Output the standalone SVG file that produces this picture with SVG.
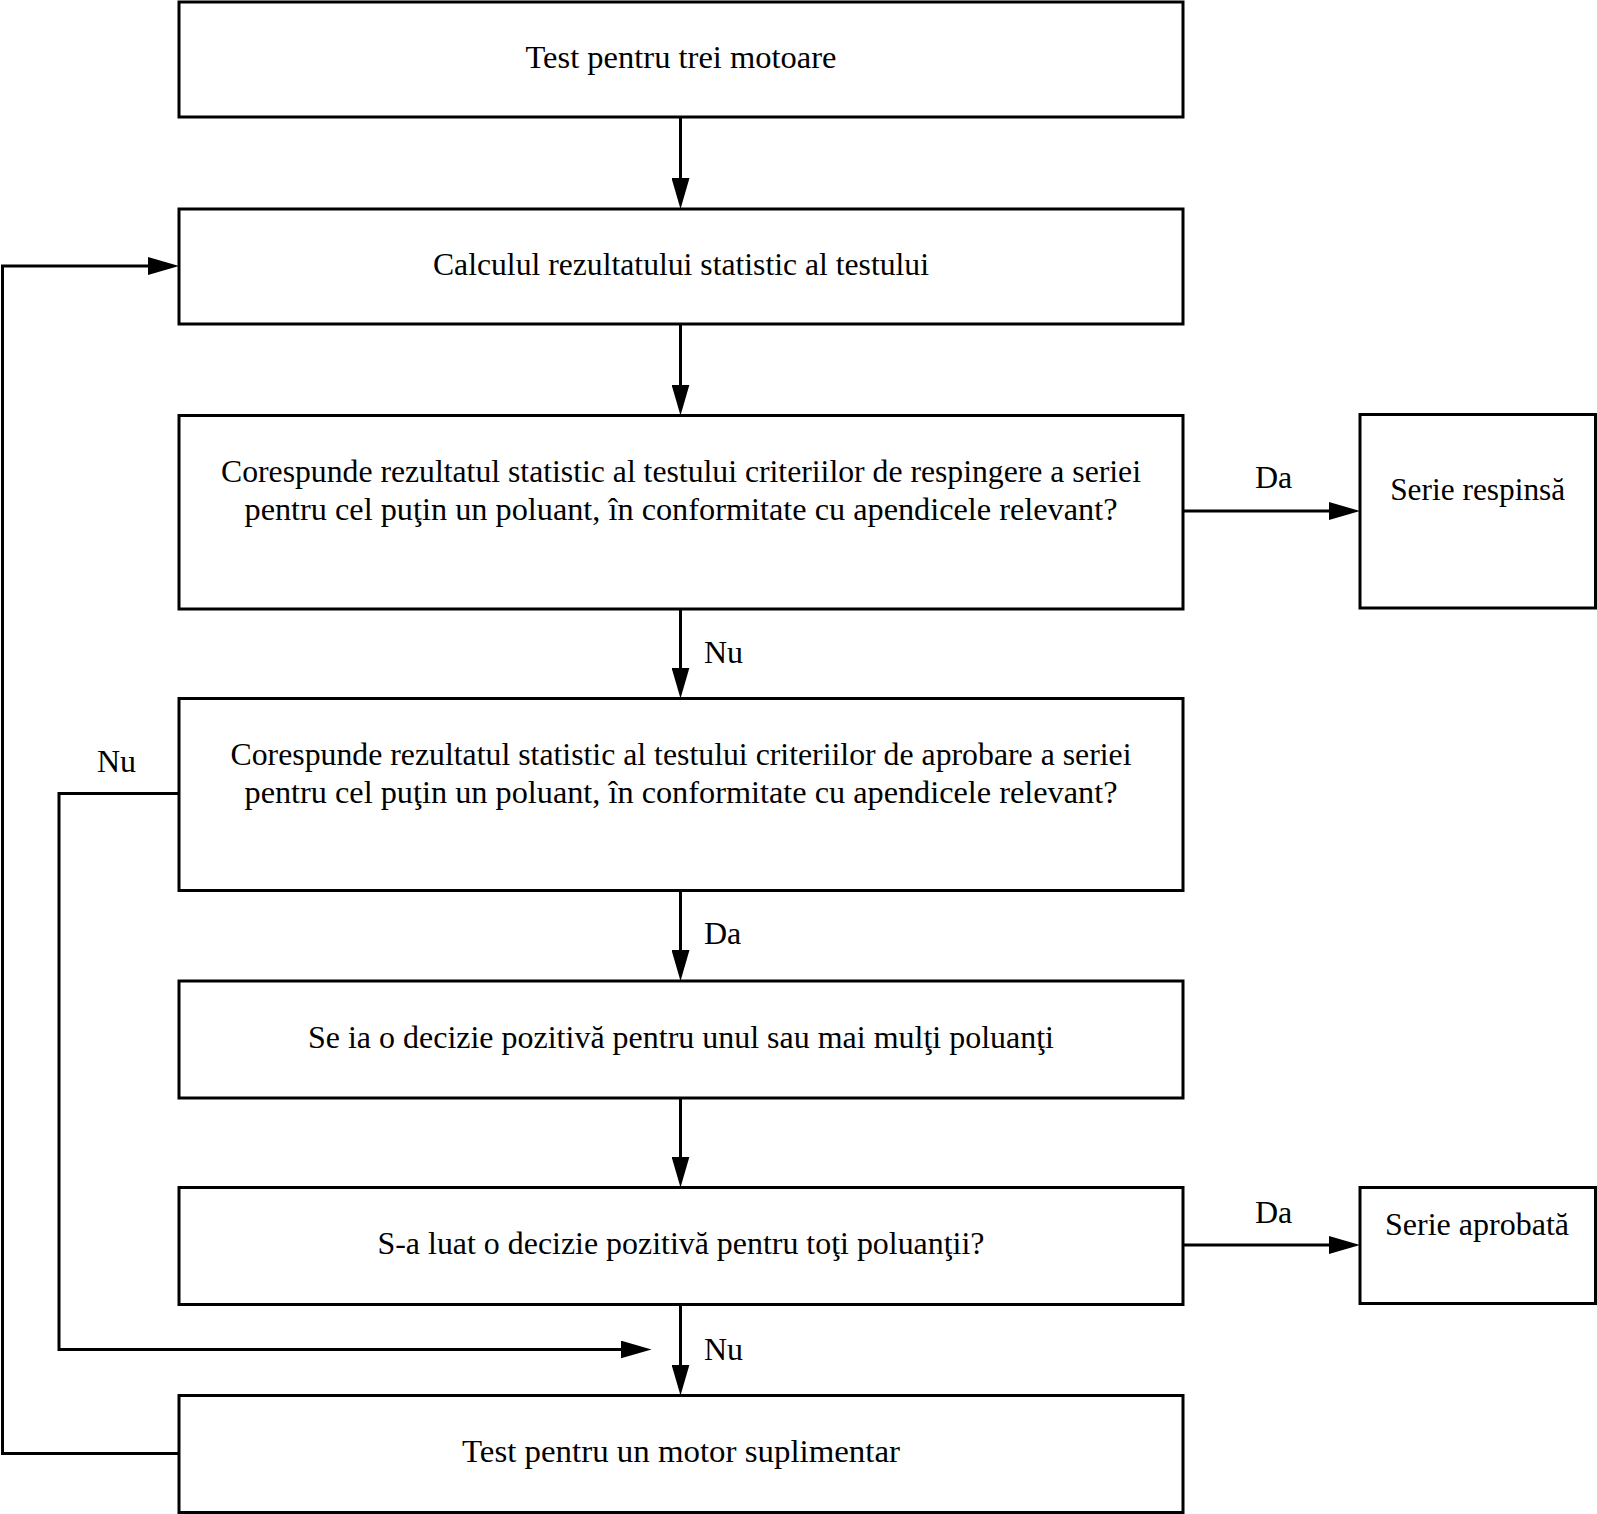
<svg xmlns="http://www.w3.org/2000/svg" width="1597" height="1514" viewBox="0 0 1597 1514">
<style>
.box{fill:#fff;stroke:#000;stroke-width:3}
.t{font-family:"Liberation Serif","Times New Roman",serif;font-size:32px;fill:#000;text-anchor:middle}
.l{font-family:"Liberation Serif","Times New Roman",serif;font-size:32px;fill:#000}
.c{fill:none;stroke:#000;stroke-width:3}
</style>
<defs>
<marker id="ah" markerUnits="userSpaceOnUse" markerWidth="32" markerHeight="18" refX="21" refY="9" orient="auto" viewBox="0 0 32 18">
<path d="M0,0 L31,9 L0,18 z" fill="#000"/>
</marker>
</defs>
<rect width="1597" height="1514" fill="#fff"/>
<g id="connectors">
<line class="c" x1="680.5" y1="117" x2="680.5" y2="199" marker-end="url(#ah)"/>
<line class="c" x1="680.5" y1="324" x2="680.5" y2="405.5" marker-end="url(#ah)"/>
<line class="c" x1="680.5" y1="609" x2="680.5" y2="688.5" marker-end="url(#ah)"/>
<line class="c" x1="680.5" y1="890.5" x2="680.5" y2="971" marker-end="url(#ah)"/>
<line class="c" x1="680.5" y1="1098" x2="680.5" y2="1177.5" marker-end="url(#ah)"/>
<line class="c" x1="680.5" y1="1304.5" x2="680.5" y2="1385.5" marker-end="url(#ah)"/>
<line class="c" x1="1183" y1="511" x2="1350" y2="511" marker-end="url(#ah)"/>
<line class="c" x1="1183" y1="1245" x2="1350" y2="1245" marker-end="url(#ah)"/>
<path class="c" d="M179,1453.5 H2.5 V266 H169" marker-end="url(#ah)"/>
<path class="c" d="M179,793.5 H59 V1349.5 H641.5" marker-end="url(#ah)"/>
<text class="l" x="1255" y="488">Da</text>
<text class="l" x="704" y="663">Nu</text>
<text class="l" x="97" y="772">Nu</text>
<text class="l" x="704" y="944">Da</text>
<text class="l" x="1255" y="1223">Da</text>
<text class="l" x="704" y="1360">Nu</text>
</g>
<g id="n1">
<rect class="box" x="179" y="2" width="1004" height="115"/>
<text class="t" x="681" y="68" textLength="311" lengthAdjust="spacingAndGlyphs">Test pentru trei motoare</text>
</g>
<g id="n2">
<rect class="box" x="179" y="209" width="1004" height="115"/>
<text class="t" x="681" y="275" textLength="496" lengthAdjust="spacingAndGlyphs">Calculul rezultatului statistic al testului</text>
</g>
<g id="n3">
<rect class="box" x="179" y="415.5" width="1004" height="193.5"/>
<text class="t" x="681" y="482" textLength="920" lengthAdjust="spacingAndGlyphs">Corespunde rezultatul statistic al testului criteriilor de respingere a seriei</text>
<text class="t" x="681" y="520" textLength="873" lengthAdjust="spacingAndGlyphs">pentru cel puţin un poluant, în conformitate cu apendicele relevant?</text>
</g>
<g id="n4">
<rect class="box" x="179" y="698.5" width="1004" height="192"/>
<text class="t" x="681" y="765" textLength="901" lengthAdjust="spacingAndGlyphs">Corespunde rezultatul statistic al testului criteriilor de aprobare a seriei</text>
<text class="t" x="681" y="803" textLength="873" lengthAdjust="spacingAndGlyphs">pentru cel puţin un poluant, în conformitate cu apendicele relevant?</text>
</g>
<g id="n5">
<rect class="box" x="179" y="981" width="1004" height="117"/>
<text class="t" x="681" y="1048" textLength="746" lengthAdjust="spacingAndGlyphs">Se ia o decizie pozitivă pentru unul sau mai mulţi poluanţi</text>
</g>
<g id="n6">
<rect class="box" x="179" y="1187.5" width="1004" height="117"/>
<text class="t" x="681" y="1254" textLength="607" lengthAdjust="spacingAndGlyphs">S-a luat o decizie pozitivă pentru toţi poluanţii?</text>
</g>
<g id="n7">
<rect class="box" x="179" y="1395.5" width="1004" height="117"/>
<text class="t" x="681" y="1462" textLength="438" lengthAdjust="spacingAndGlyphs">Test pentru un motor suplimentar</text>
</g>
<g id="n8">
<rect class="box" x="1360" y="414.5" width="235.5" height="193.5"/>
<text class="t" x="1477.7" y="499.5" textLength="175" lengthAdjust="spacingAndGlyphs">Serie respinsă</text>
</g>
<g id="n9">
<rect class="box" x="1360" y="1187.5" width="235.5" height="116"/>
<text class="t" x="1477" y="1235" textLength="184" lengthAdjust="spacingAndGlyphs">Serie aprobată</text>
</g>
</svg>
